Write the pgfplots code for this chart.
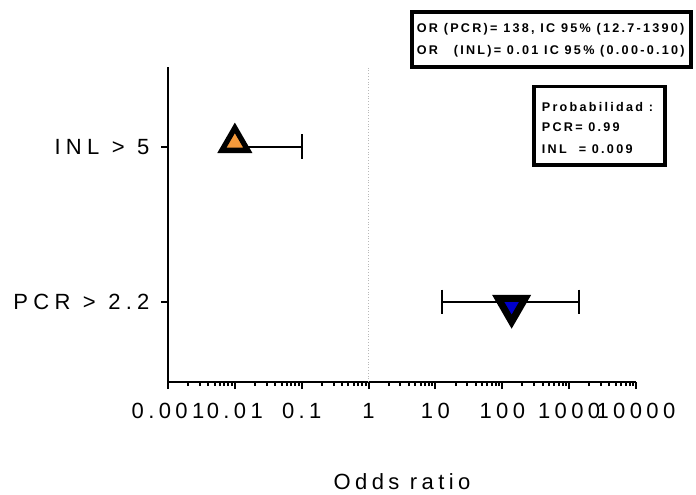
\documentclass[border=0pt]{standalone}
\usepackage{pgfplots}
\pgfplotsset{compat=1.18}
\usepackage{fontspec}
\setmainfont{Liberation Sans}
\newfontfamily\tickfont[LetterSpace=20]{Liberation Sans}
\newfontfamily\ytickfont[LetterSpace=24,WordSpace=1.1]{Liberation Sans}
\newfontfamily\labfont[LetterSpace=20]{Liberation Sans}
\newfontfamily\boxfont[LetterSpace=18]{Liberation Sans}
\definecolor{myorange}{HTML}{F59A3B}
\definecolor{myblue}{HTML}{0000CC}
\begin{document}
\begin{tikzpicture}
\path[use as bounding box] (0,0) rectangle (696pt,-495pt);
\begin{axis}[
  at={(168pt,-382pt)}, anchor=south west,
  scale only axis, width=468pt, height=315pt,
  xmode=log, xmin=0.001, xmax=10000,
  ymin=-0.518, ymax=1.514,
  axis x line*=bottom, axis y line*=left,
  axis line style={line width=2.5pt, -},
  xtick={0.001,0.01,0.1,1,10,100,1000,10000},
  xticklabels={0.001,0.01,0.1,1,10,100,1000,10000},
  ytick={0,1}, yticklabels={PCR > 2.2, INL > 5},
  tick align=outside,
  major tick length=7pt, minor tick length=4pt,
  every tick/.style={black, line width=2pt},
  xticklabel style={yshift=-11pt, font=\tickfont\fontsize{22}{26}\selectfont},
  yticklabel style={xshift=-8pt, font=\ytickfont\fontsize{22}{26}\selectfont},
  xlabel={Odds ratio},
  xlabel style={at={(axis description cs:0.5,0)}, anchor=base, yshift=-107pt, font=\labfont\fontsize{22}{26}\selectfont},
  clip=false,
]
\addplot[gray!55, dotted, line width=0.8pt, forget plot] coordinates {(1,-0.518) (1,1.514)};
% INL > 5: OR 0.01, IC 95% 0.00-0.10
\addplot[black, line width=2pt, mark=|, mark indices={2}, mark size=12.5pt, mark options={line width=2pt, solid}] coordinates {(0.01,1) (0.1,1)};
\addplot[only marks, mark=triangle*, mark size=15pt, mark options={yshift=3.8pt, fill=myorange, draw=black, line width=5.3pt}] coordinates {(0.01,1)};
% PCR > 2.2: OR 138, IC 95% 12.7-1390
\addplot[only marks, mark=triangle*, mark size=15.6pt, mark options={yshift=-4.4pt, rotate=180, fill=myblue, draw=black, line width=7pt}] coordinates {(138,0)};
\addplot[black, line width=2pt, mark=|, mark size=12pt, mark options={line width=2pt, solid}] coordinates {(12.7,0) (1390,0)};
\end{axis}
\draw[line width=4pt] (412pt,-12pt) rectangle (691pt,-67pt);
\node[anchor=base west, inner sep=0pt] at (416.7pt,-32.3pt) {\boxfont\bfseries\fontsize{12.6}{15}\selectfont OR (PCR)= 138, IC 95\% (12.7-1390)};
\node[anchor=base west, inner sep=0pt] at (416.7pt,-54.3pt) {\boxfont\bfseries\fontsize{12.6}{15}\selectfont OR\hspace{10pt} (INL)= 0.01 IC 95\% (0.00-0.10)};
\draw[line width=3.3pt] (534pt,-86.7pt) rectangle (665pt,-165pt);
\node[anchor=base west, inner sep=0pt] at (541.7pt,-111pt) {\boxfont\bfseries\fontsize{12.6}{15}\selectfont Probabilidad :};
\node[anchor=base west, inner sep=0pt] at (541.7pt,-131.7pt) {\boxfont\bfseries\fontsize{12.6}{15}\selectfont PCR= 0.99};
\node[anchor=base west, inner sep=0pt] at (541.7pt,-153.3pt) {\boxfont\bfseries\fontsize{12.6}{15}\selectfont \rlap{INL}\phantom{PCR} = 0.009};
\end{tikzpicture}
\end{document}
